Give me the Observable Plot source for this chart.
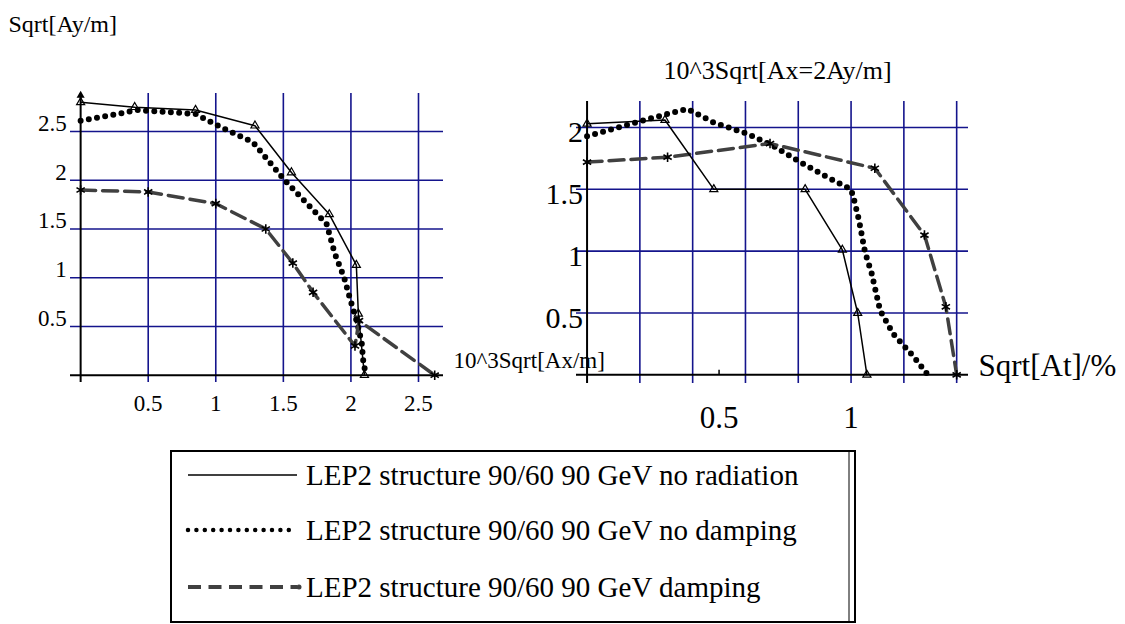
<!DOCTYPE html>
<html><head><meta charset="utf-8">
<script src="https://cdn.jsdelivr.net/npm/d3@7"></script>
<script src="https://cdn.jsdelivr.net/npm/@observablehq/plot@0.6"></script>
<style>
html,body{margin:0;padding:0;background:#fff;}
body{width:1125px;height:624px;overflow:hidden;position:relative;font-family:"Liberation Serif","Times New Roman",serif;}
#left{position:absolute;left:0;top:0}
#right{position:absolute;left:500px;top:0}
#legend{position:absolute;left:170px;top:450px}
svg{overflow:visible}
</style></head><body>
<div id="left"></div><div id="right"></div><div id="legend"></div>
<script>
// ---------- data ----------
const seriesNames = [
  "LEP2 structure 90/60 90 GeV no radiation",
  "LEP2 structure 90/60 90 GeV no damping",
  "LEP2 structure 90/60 90 GeV damping"
];

// left panel: Sqrt[Ay/m] vs 10^3Sqrt[Ax/m]
const leftNoRadX = [0, 0.40, 0.85, 1.29, 1.56, 1.84, 2.04, 2.055, 2.10];
const leftNoRadY = [2.80, 2.75, 2.72, 2.56, 2.08, 1.65, 1.13, 0.63, 0];
const leftNoDampX = [0, 0.20, 0.42, 0.85, 1.03, 1.275, 1.51, 1.82, 1.88, 1.95, 1.99, 2.02, 2.05, 2.08, 2.09, 2.11];
const leftNoDampY = [2.61, 2.66, 2.72, 2.68, 2.55, 2.39, 2.00, 1.55, 1.25, 1.00, 0.80, 0.66, 0.52, 0.33, 0.16, 0];
const leftDampX = [0, 0.50, 1.00, 1.37, 1.57, 1.72, 2.03, 2.06, 2.62];
const leftDampY = [1.90, 1.88, 1.76, 1.50, 1.15, 0.85, 0.30, 0.56, 0];

// right panel: 10^3Sqrt[Ax=2Ay/m] vs Sqrt[At]/%
const rightNoRadX = [0, 0.295, 0.48, 0.826, 0.967, 1.025, 1.06];
const rightNoRadY = [2.03, 2.06, 1.50, 1.50, 1.01, 0.50, 0];
const rightNoDampX = [0, 0.10, 0.20, 0.27, 0.38, 0.48, 0.605, 0.706, 0.807, 0.908, 1.00, 1.012, 1.03, 1.053, 1.078, 1.11, 1.16, 1.236, 1.287];
const rightNoDampY = [1.93, 1.99, 2.05, 2.09, 2.15, 2.04, 1.95, 1.85, 1.72, 1.60, 1.50, 1.41, 1.25, 0.99, 0.82, 0.52, 0.33, 0.15, 0.01];
const rightDampX = [0, 0.305, 0.693, 1.09, 1.278, 1.359, 1.40];
const rightDampY = [1.72, 1.76, 1.87, 1.67, 1.13, 0.55, 0];

// axes / ticks
const leftXDomain = [-0.075, 2.685];
const leftYDomain = [-0.075, 2.89];
const leftXTicks = [0.5, 1, 1.5, 2, 2.5];
const leftYTicks = [0.5, 1, 1.5, 2, 2.5];
const rightXDomain = [-0.04, 1.4448];
const rightYDomain = [-0.07, 2.21];
const rightXGrid = [0.2, 0.4, 0.6, 0.8, 1.0, 1.2, 1.4];
const rightXTicks = [0.5, 1];
const rightYTicks = [0.5, 1, 1.5, 2];

const leftYLabel = "Sqrt[Ay/m]";
const leftXLabel = "10^3Sqrt[Ax/m]";
const rightYLabel = "10^3Sqrt[Ax=2Ay/m]";
const rightXLabel = "Sqrt[At]/%";

// ---------- styles ----------
const FONT = "'Liberation Serif', 'Times New Roman', serif";
const GRID = "#14148c";
const zip = (xs, ys) => xs.map((x, i) => ({x, y: ys[i]}));
const fmt = d => String(d);
const tickSymbol = {draw(ctx) { ctx.moveTo(0, -5); ctx.lineTo(0, 0); }};

function seriesMarks(noRad, noDamp, damp) {
  return [
    Plot.line(noDamp, {x: "x", y: "y", stroke: "#000", strokeWidth: 6, strokeDasharray: "0 8.3", strokeLinecap: "round"}),
    Plot.line(damp, {x: "x", y: "y", stroke: "#404040", strokeWidth: 3.5, strokeDasharray: "15 7"}),
    Plot.dot(damp, {x: "x", y: "y", symbol: "asterisk", r: 4.5, stroke: "#000", strokeWidth: 1.6}),
    Plot.line(noRad, {x: "x", y: "y", stroke: "#000", strokeWidth: 1.5}),
    Plot.dot(noRad, {x: "x", y: "y", symbol: "triangle", r: 3, stroke: "#000", strokeWidth: 1.2, fill: "none"})
  ];
}

// ---------- left panel ----------
const left = Plot.plot({
  width: 470, height: 430,
  marginLeft: 70, marginRight: 27, marginTop: 93, marginBottom: 48,
  x: {domain: leftXDomain, axis: null},
  y: {domain: leftYDomain, axis: null},
  style: {fontFamily: FONT, background: "transparent", overflow: "visible", color: "#000"},
  marks: [
    Plot.ruleY(leftYTicks, {stroke: GRID, strokeWidth: 1.6}),
    Plot.ruleX(leftXTicks, {stroke: GRID, strokeWidth: 1.6}),
    Plot.ruleY([0], {stroke: "#000", strokeWidth: 2}),
    Plot.ruleX([0], {stroke: "#000", strokeWidth: 2}),
    Plot.dot([leftYDomain[1]], {x: 0, y: d => d, symbol: "triangle", r: 3, fill: "#000", dy: 2}),
    ...seriesMarks(zip(leftNoRadX, leftNoRadY), zip(leftNoDampX, leftNoDampY), zip(leftDampX, leftDampY)),
    Plot.text(leftXTicks, {x: d => d, y: 0, text: fmt, dy: 28, fontSize: 23, fill: "#000"}),
    Plot.text(leftYTicks, {x: 0, y: d => d, text: fmt, dx: -14, dy: -8, textAnchor: "end", fontSize: 23, fill: "#000"}),
    Plot.text([leftXLabel], {frameAnchor: "bottom-right", text: d => d, dx: 10, dy: -15, textAnchor: "start", fontSize: 23, fill: "#000"}),
    Plot.text([leftYLabel], {frameAnchor: "top-left", text: d => d, dx: -62, dy: -79, textAnchor: "start", fontSize: 24, fill: "#000"})
  ]
});
document.getElementById("left").append(left);

// ---------- right panel ----------
const right = Plot.plot({
  width: 625, height: 430,
  marginLeft: 76, marginRight: 157, marginTop: 101, marginBottom: 47,
  x: {domain: rightXDomain, axis: null},
  y: {domain: rightYDomain, axis: null},
  style: {fontFamily: FONT, background: "transparent", overflow: "visible", color: "#000"},
  marks: [
    Plot.ruleY(rightYTicks, {stroke: GRID, strokeWidth: 1.6}),
    Plot.ruleX(rightXGrid, {stroke: GRID, strokeWidth: 1.6}),
    Plot.ruleY([0], {stroke: "#000", strokeWidth: 2}),
    Plot.ruleX([0], {stroke: "#000", strokeWidth: 2}),
    Plot.dot([rightXTicks[0]], {x: d => d, y: 0, symbol: tickSymbol, stroke: "#000", strokeWidth: 1.5, fill: "none"}),
    ...seriesMarks(zip(rightNoRadX, rightNoRadY), zip(rightNoDampX, rightNoDampY), zip(rightDampX, rightDampY)),
    Plot.text(rightXTicks, {x: d => d, y: 0, text: fmt, dy: 43, fontSize: 31, fill: "#000"}),
    Plot.text(rightYTicks, {x: 0, y: d => d, text: fmt, dx: -4, dy: 5, textAnchor: "end", fontSize: 30, fill: "#000"}),
    Plot.text([rightXLabel], {frameAnchor: "bottom-right", text: d => d, dx: 10, dy: -8, textAnchor: "start", fontSize: 31, fill: "#000"}),
    Plot.text([rightYLabel], {frameAnchor: "top-left", text: d => d, dx: 87, dy: -41, textAnchor: "start", fontSize: 26, fill: "#000"})
  ]
});
document.getElementById("right").append(right);

// ---------- legend ----------
const LW = 686, LH = 173;
const lg = d3.select("#legend").append("svg").attr("width", LW).attr("height", LH);
lg.append("rect").attr("x", 1).attr("y", 1).attr("width", LW - 2).attr("height", LH - 2)
  .attr("fill", "none").attr("stroke", "#000").attr("stroke-width", 2);
lg.append("line").attr("x1", LW - 7).attr("x2", LW - 7).attr("y1", 1).attr("y2", LH - 1)
  .attr("stroke", "#000").attr("stroke-width", 1);
const rowY = [25, 80, 137];
const styles = [
  {stroke: "#000", w: 1.5, dash: null, cap: "butt"},
  {stroke: "#000", w: 4.5, dash: "0 8.4", cap: "round"},
  {stroke: "#404040", w: 4, dash: "13 7.5", cap: "butt"}
];
seriesNames.forEach((name, i) => {
  const s = styles[i];
  const ln = lg.append("line").attr("x1", 18).attr("x2", 127).attr("y1", rowY[i]).attr("y2", rowY[i])
    .attr("stroke", s.stroke).attr("stroke-width", s.w).attr("stroke-linecap", s.cap);
  if (s.dash) ln.attr("stroke-dasharray", s.dash);
  if (i === 2) lg.append("circle").attr("cx", 129).attr("cy", rowY[i]).attr("r", 2.5).attr("fill", "#404040");
  lg.append("text").attr("x", 136).attr("y", rowY[i]).attr("dy", "0.35em")
    .attr("font-family", FONT).attr("font-size", 29).attr("fill", "#000").text(name);
});
</script>
</body></html>
